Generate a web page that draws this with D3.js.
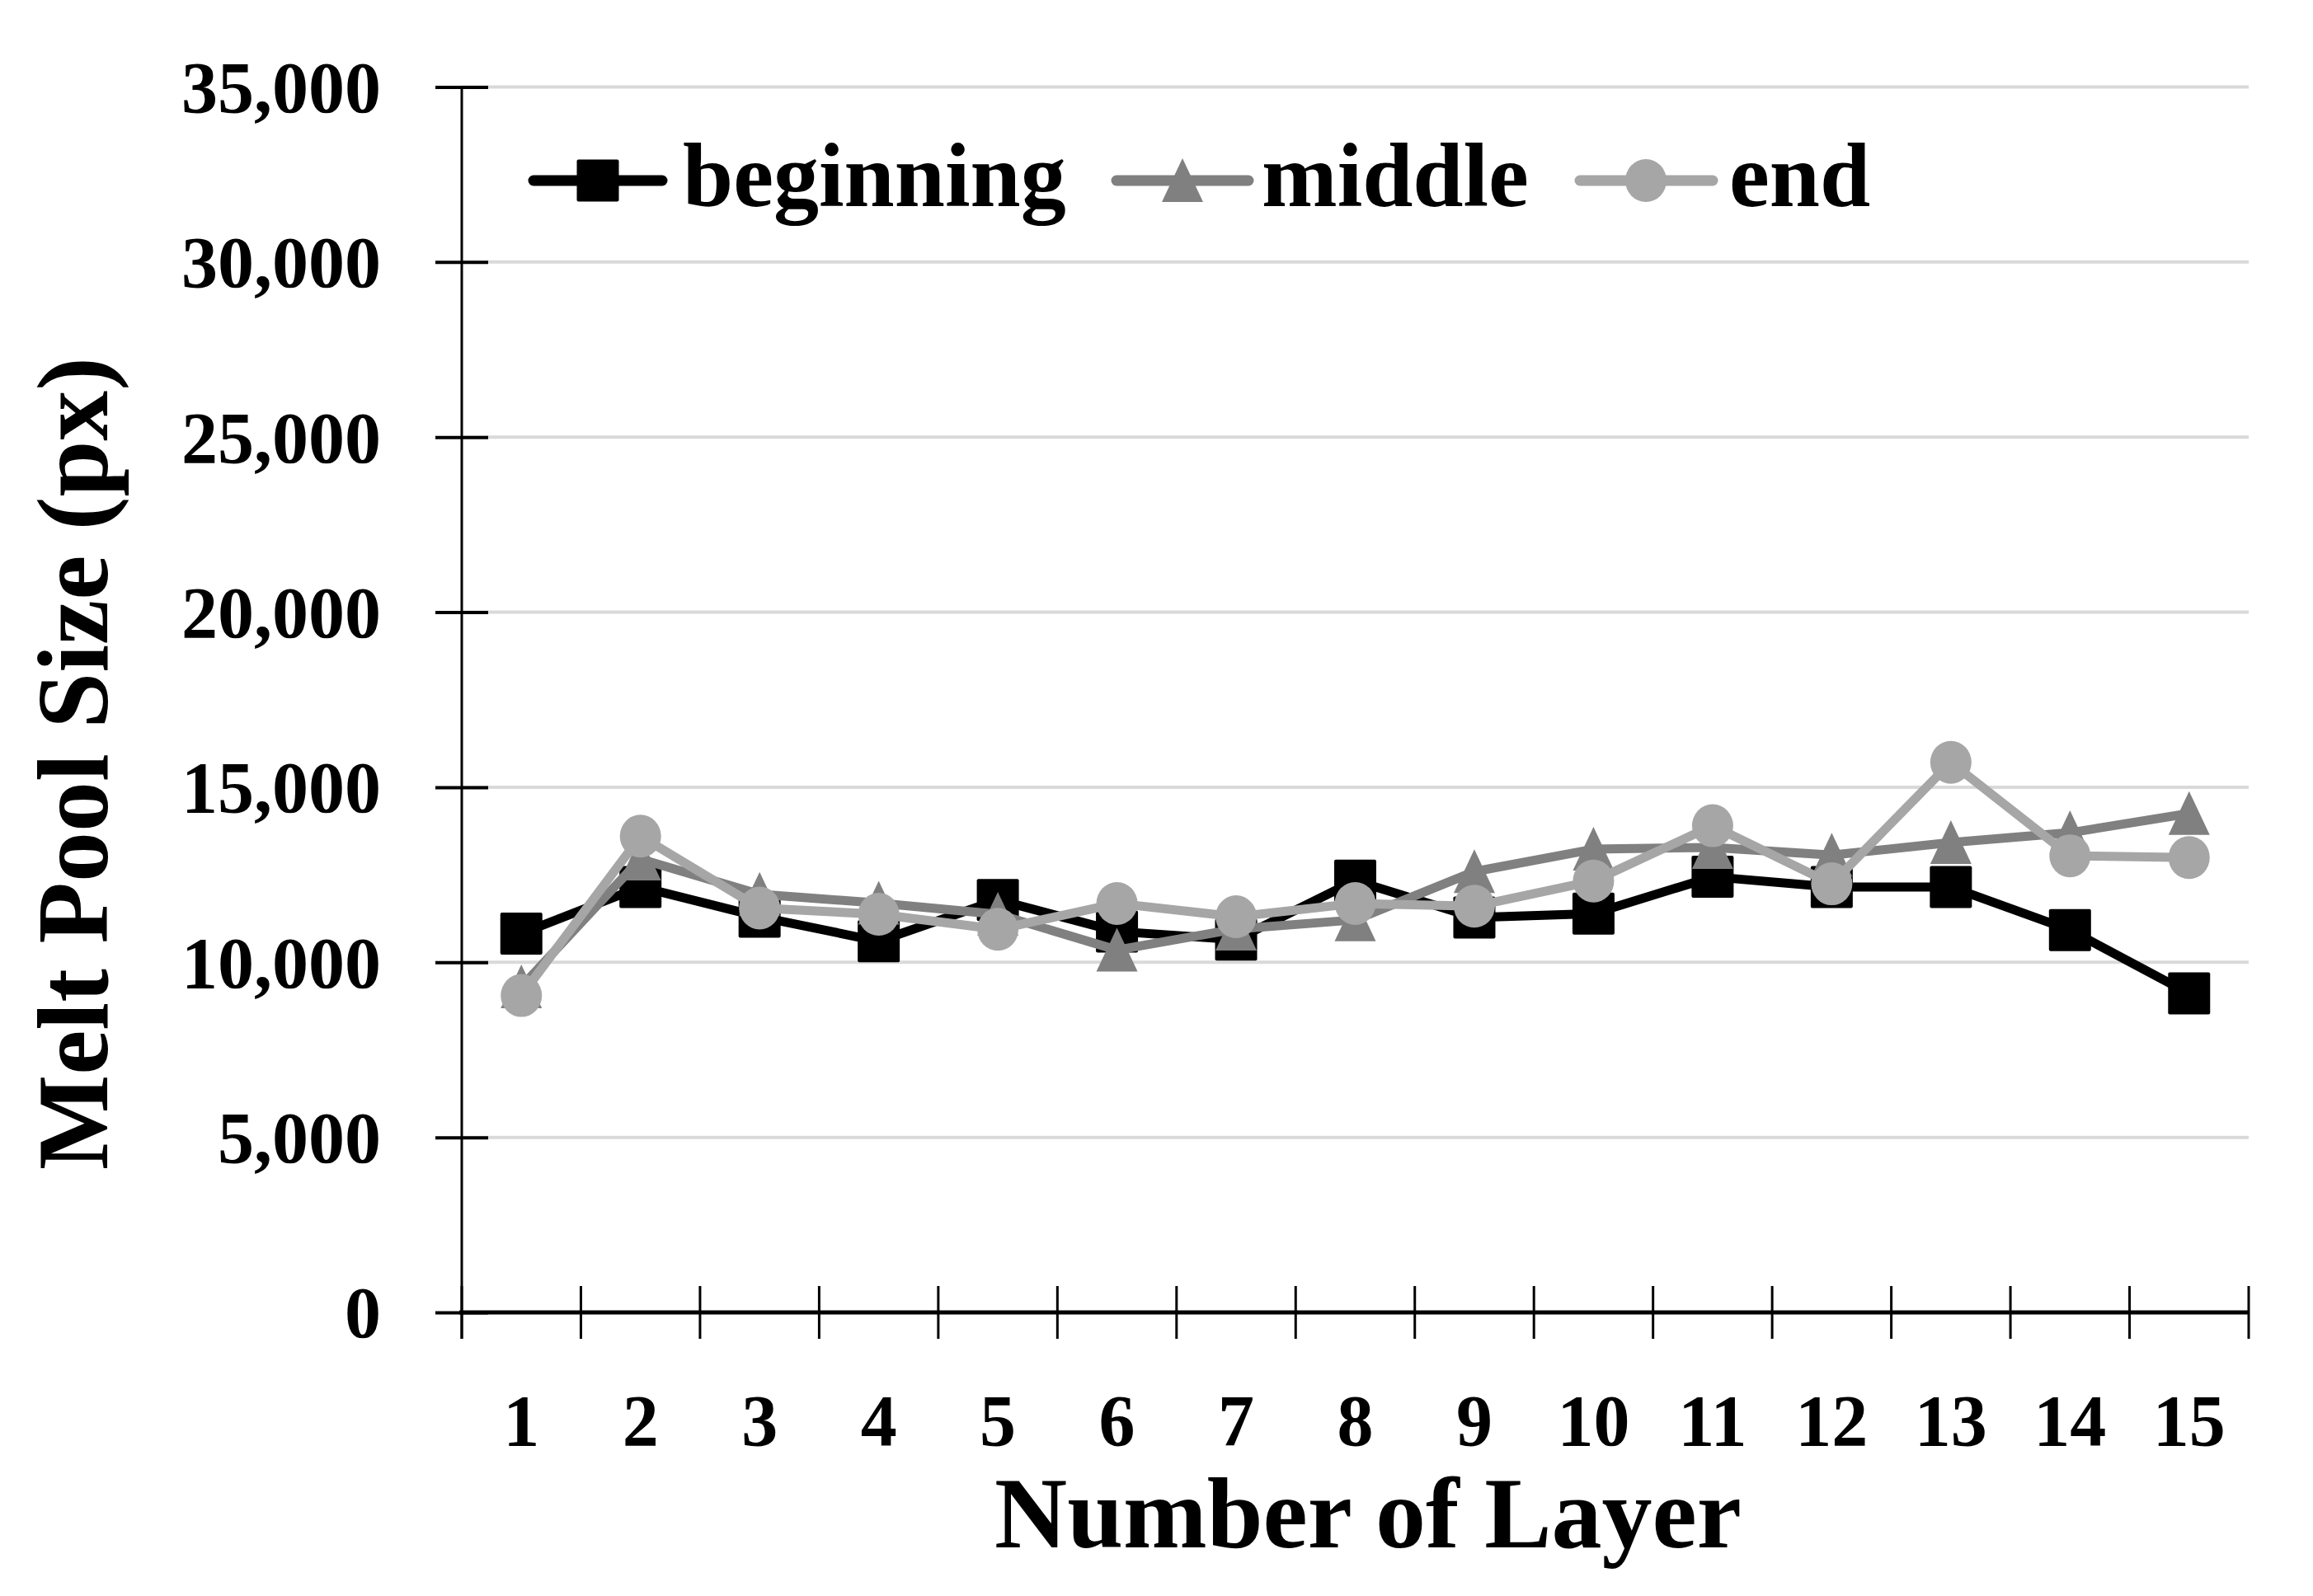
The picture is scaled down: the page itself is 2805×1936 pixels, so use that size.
<!DOCTYPE html>
<html>
<head>
<meta charset="utf-8">
<script src="https://cdn.jsdelivr.net/npm/d3@7"></script>
<style>
html,body{margin:0;padding:0;background:#fff;}
svg{display:block;}
text{font-family:"Liberation Serif","DejaVu Serif",serif;font-weight:bold;fill:#000;}
</style>
</head>
<body>
<svg id="chart" width="2805" height="1936"></svg>
<script>
const layers = ["1","2","3","4","5","6","7","8","9","10","11","12","13","14","15"];
const beginning = [10820, 12150, 11300, 10600, 11780, 10880, 10650, 12330, 11280, 11390, 12440, 12150, 12150, 10920, 9110];
const middle    = [9300, 12950, 11940, 11690, 11370, 10350, 10950, 11210, 12590, 13230, 13280, 13060, 13420, 13700, 14250];
const end       = [9050, 13600, 11550, 11370, 10940, 11680, 11300, 11680, 11600, 12320, 13900, 12240, 15710, 13040, 12990];
const yTicks = [0, 5000, 10000, 15000, 20000, 25000, 30000, 35000];
const seriesNames = ["beginning", "middle", "end"];
const seriesColors = ["#000000", "#808080", "#a6a6a6"];
const seriesShapes = ["square", "triangle", "circle"];

const svg = d3.select("#chart");
const L = 560, R = 2727, T = 105.4, B = 1592;

const x = d3.scaleBand().domain(layers).range([L, R]);
const y = d3.scaleLinear().domain([0, 35000]).range([B, T]);

// gridlines
svg.append("g").selectAll("line").data(yTicks.filter(d => d > 0)).join("line")
  .attr("x1", L).attr("x2", R)
  .attr("y1", d => y(d)).attr("y2", d => y(d))
  .attr("stroke", "#d9d9d9").attr("stroke-width", 4);

// y axis
const yAxis = d3.axisLeft(y).tickValues(yTicks).tickSize(0).tickPadding(0)
  .tickFormat(d3.format(","));
const gy = svg.append("g").attr("transform", `translate(${L},0)`).call(yAxis);
gy.select(".domain").remove();
gy.selectAll(".tick text").attr("x", -98).attr("dy", "0.34em")
  .style("font-size", "88px").style("font-family", '"Liberation Serif",serif').style("font-weight", "bold");
gy.selectAll(".tick").append("line")
  .attr("x1", -32).attr("x2", 32).attr("stroke", "#000").attr("stroke-width", 4);
svg.append("line").attr("x1", L).attr("x2", L).attr("y1", T).attr("y2", B + 32)
  .attr("stroke", "#000").attr("stroke-width", 3);

// x axis
const xAxis = d3.axisBottom(x).tickSize(0).tickPadding(0);
const gx = svg.append("g").attr("transform", `translate(0,${B})`).call(xAxis);
gx.select(".domain").remove();
gx.selectAll(".tick text").attr("y", 161).attr("dy", 0)
  .style("font-size", "88px").style("font-family", '"Liberation Serif",serif').style("font-weight", "bold");
const boundaries = layers.map(d => x(d)).concat([R]);
svg.append("g").selectAll("line").data(boundaries).join("line")
  .attr("x1", d => d).attr("x2", d => d).attr("y1", B - 32).attr("y2", B + 32)
  .attr("stroke", "#000").attr("stroke-width", 3);
svg.append("line").attr("x1", L - 3).attr("x2", R).attr("y1", B).attr("y2", B)
  .attr("stroke", "#000").attr("stroke-width", 5);

// axis titles
svg.append("text").attr("x", 1659).attr("y", 1877).attr("text-anchor", "middle")
  .style("font-size", "122px").text("Number of Layer");
svg.append("text").attr("transform", "translate(130,926) rotate(-90)").attr("text-anchor", "middle")
  .style("font-size", "122px").text("Melt Pool Size (px)");

function marker(g, shape, cx, cy, color) {
  if (shape === "square") {
    g.append("rect").attr("x", cx - 25.5).attr("y", cy - 25.5).attr("width", 51).attr("height", 51)
      .attr("rx", 2).attr("fill", color);
  } else if (shape === "triangle") {
    g.append("path").attr("d", `M${cx},${cy - 27}L${cx + 25},${cy + 26}L${cx - 25},${cy + 26}Z`).attr("fill", color);
  } else {
    g.append("ellipse").attr("cx", cx).attr("cy", cy).attr("rx", 25).attr("ry", 26).attr("fill", color);
  }
}

// series
const allSeries = [beginning, middle, end];
const line = d3.line().x((d, i) => x(layers[i]) + x.bandwidth() / 2).y(d => y(d));
allSeries.forEach((vals, si) => {
  const g = svg.append("g");
  g.append("path").datum(vals).attr("d", line).attr("fill", "none")
    .attr("stroke", seriesColors[si]).attr("stroke-width", 11).attr("stroke-linejoin", "round");
  vals.forEach((v, i) => marker(g, seriesShapes[si], x(layers[i]) + x.bandwidth() / 2, y(v), seriesColors[si]));
});

// legend
const legendY = 219;
const legendItems = [
  {x1: 641, x2: 809, mx: 725, tx: 828},
  {x1: 1348, x2: 1520, mx: 1434, tx: 1530},
  {x1: 1910, x2: 2083, mx: 1996, tx: 2097}
];
legendItems.forEach((it, si) => {
  const g = svg.append("g");
  g.append("line").attr("x1", it.x1 + 6).attr("x2", it.x2 - 6).attr("y1", legendY).attr("y2", legendY)
    .attr("stroke", seriesColors[si]).attr("stroke-width", 13).attr("stroke-linecap", "round");
  marker(g, seriesShapes[si], it.mx, legendY, seriesColors[si]);
  g.append("text").attr("x", it.tx).attr("y", legendY + 31).style("font-size", "110px").text(seriesNames[si]);
});
</script>
</body>
</html>
